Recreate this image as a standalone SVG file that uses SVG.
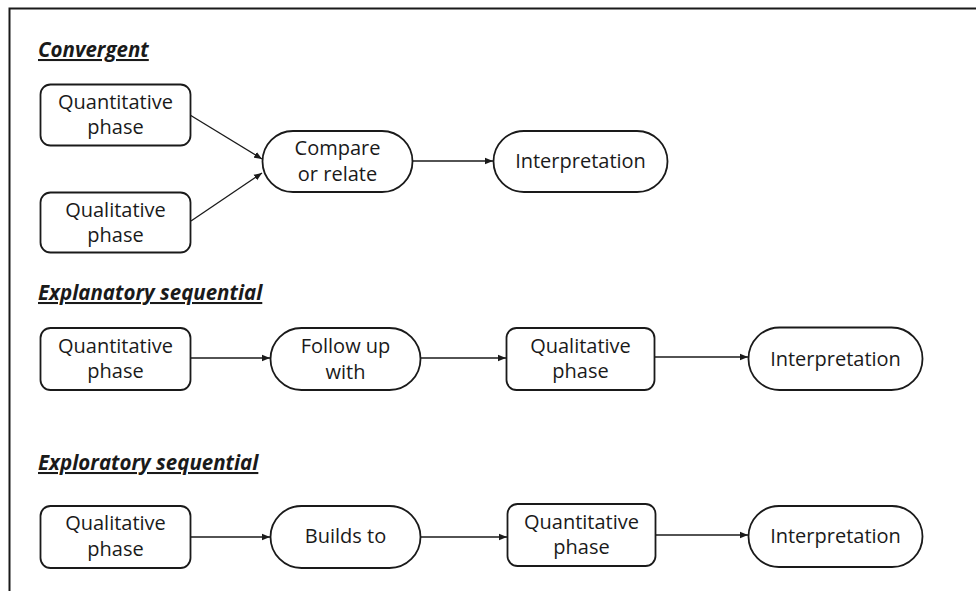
<svg xmlns="http://www.w3.org/2000/svg" width="976" height="591" viewBox="0 0 976 591">
<defs>
<style>
.box{fill:#fff;stroke:#1a1a1a;stroke-width:1.8}
.t{font-family:"Open Sans","Noto Sans",sans-serif;font-size:20px;fill:#1a1a1a;text-anchor:middle}
.h{font-family:"Open Sans","Noto Sans",sans-serif;font-size:20.5px;font-weight:bold;font-style:italic;text-decoration:underline;fill:#1a1a1a}
.c{stroke:#1a1a1a;stroke-width:1.3;fill:none;marker-end:url(#ah)}
</style>
<marker id="ah" viewBox="0 0 10 10" refX="10" refY="5" markerWidth="8" markerHeight="8" markerUnits="userSpaceOnUse" orient="auto">
<path d="M0,1 L10,5 L0,9 z" fill="#1a1a1a"/>
</marker>
</defs>
<rect width="976" height="591" fill="#fff"/>
<path d="M9.5,591 V8.5 H976" fill="none" stroke="#1a1a1a" stroke-width="2"/>

<text class="h" x="38" y="57">Convergent</text>
<text class="h" x="38" y="300">Explanatory sequential</text>
<text class="h" x="38" y="470">Exploratory sequential</text>

<g id="connectors">
<line class="c" x1="190" y1="115" x2="262" y2="159"/>
<line class="c" x1="191" y1="221" x2="262" y2="173"/>
<line class="c" x1="412" y1="161" x2="493" y2="161"/>
<line class="c" x1="190" y1="358" x2="270" y2="358"/>
<line class="c" x1="420" y1="358" x2="506" y2="358"/>
<line class="c" x1="654" y1="357" x2="748" y2="357"/>
<line class="c" x1="190" y1="537" x2="270" y2="537"/>
<line class="c" x1="420" y1="537" x2="507" y2="537"/>
<line class="c" x1="655" y1="535" x2="748" y2="535"/>
</g>

<g id="conv-quant"><rect class="box" x="40.5" y="84.5" width="150" height="61" rx="10"/><text class="t" x="115.5" y="109">Quantitative</text><text class="t" x="115.5" y="134">phase</text></g>
<g id="conv-qual"><rect class="box" x="40.5" y="192.5" width="150" height="60" rx="10"/><text class="t" x="115.5" y="217">Qualitative</text><text class="t" x="115.5" y="242">phase</text></g>
<g id="conv-compare"><rect class="box" x="262.5" y="131" width="150" height="61" rx="30.5"/><text class="t" x="337.5" y="155">Compare</text><text class="t" x="337.5" y="181">or relate</text></g>
<g id="conv-interp"><rect class="box" x="493.5" y="131" width="174" height="61" rx="30.5"/><text class="t" x="580.5" y="168">Interpretation</text></g>

<g id="expl-quant"><rect class="box" x="40.5" y="328" width="150" height="62" rx="10"/><text class="t" x="115.5" y="353">Quantitative</text><text class="t" x="115.5" y="378">phase</text></g>
<g id="expl-follow"><rect class="box" x="270.5" y="328" width="150" height="62" rx="31"/><text class="t" x="345.5" y="353">Follow up</text><text class="t" x="345.5" y="379">with</text></g>
<g id="expl-qual"><rect class="box" x="506.5" y="328" width="148" height="62" rx="10"/><text class="t" x="580.5" y="353">Qualitative</text><text class="t" x="580.5" y="378">phase</text></g>
<g id="expl-interp"><rect class="box" x="748.5" y="327.5" width="174" height="62.5" rx="31"/><text class="t" x="835.5" y="366">Interpretation</text></g>

<g id="expo-qual"><rect class="box" x="40.5" y="506" width="150" height="62" rx="10"/><text class="t" x="115.5" y="530">Qualitative</text><text class="t" x="115.5" y="556">phase</text></g>
<g id="expo-builds"><rect class="box" x="270.5" y="506" width="150" height="62" rx="31"/><text class="t" x="345.5" y="543">Builds to</text></g>
<g id="expo-quant"><rect class="box" x="507.5" y="504" width="148" height="62" rx="10"/><text class="t" x="581.5" y="529">Quantitative</text><text class="t" x="581.5" y="554">phase</text></g>
<g id="expo-interp"><rect class="box" x="748.5" y="506" width="174" height="61" rx="30.5"/><text class="t" x="835.5" y="543">Interpretation</text></g>
</svg>
